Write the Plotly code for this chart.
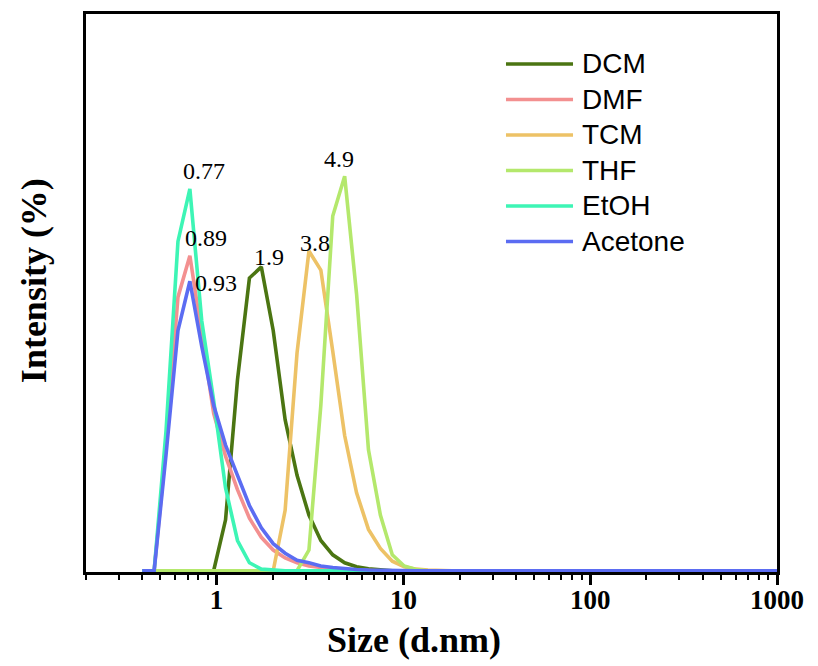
import math
import plotly.graph_objects as go

# Hydrodynamic size bins (nm) of the DLS size distribution
SIZE_NM = [0.4, 0.4632, 0.5365, 0.6213, 0.7195, 0.8332, 0.9649, 1.117, 1.294, 1.499,
           1.736, 2.010, 2.328, 2.696, 3.122, 3.615, 4.187, 4.849, 5.615, 6.503,
           7.531, 8.721, 10.10, 11.70, 13.54, 15.69, 18.17, 21.04, 24.36, 28.21,
           32.67, 37.84, 43.82, 50.75, 58.77, 68.06, 78.82, 91.28, 105.7, 122.4,
           141.8, 164.2, 190.1, 220.2, 255.0, 295.3, 342.0, 396.1, 458.7, 531.2,
           615.1, 712.4, 825.0, 955.4, 1106]

# Intensity (%) per bin for each solvent
DCM = [0, 0, 0, 0, 0, 0, 0, 3.2, 12.0, 18.4,
       19.1, 15.1, 9.5, 6.0, 3.5, 1.9, 1.0, 0.5, 0.25, 0.12,
       0.06, 0, 0, 0, 0, 0, 0, 0, 0, 0,
       0, 0, 0, 0, 0, 0, 0, 0, 0, 0,
       0, 0, 0, 0, 0, 0, 0, 0, 0, 0,
       0, 0, 0, 0, 0]
DMF = [0, 0, 7.8, 17.2, 19.8, 14.8, 9.9, 7.2, 5.1, 3.3,
       2.1, 1.3, 0.8, 0.5, 0.3, 0.2, 0.12, 0.07, 0.04, 0,
       0, 0, 0, 0, 0, 0, 0, 0, 0, 0,
       0, 0, 0, 0, 0, 0, 0, 0, 0, 0,
       0, 0, 0, 0, 0, 0, 0, 0, 0, 0,
       0, 0, 0, 0, 0]
TCM = [0, 0, 0, 0, 0, 0, 0, 0, 0, 0,
       0, 0, 3.8, 13.7, 20.1, 18.9, 13.8, 8.5, 4.9, 2.6,
       1.4, 0.6, 0.25, 0.1, 0.04, 0, 0, 0, 0, 0,
       0, 0, 0, 0, 0, 0, 0, 0, 0, 0,
       0, 0, 0, 0, 0, 0, 0, 0, 0, 0,
       0, 0, 0, 0, 0]
THF = [0, 0, 0, 0, 0, 0, 0, 0, 0, 0,
       0, 0, 0, 0, 1.3, 10.4, 22.3, 24.8, 17.4, 7.6,
       3.5, 1.0, 0.3, 0.08, 0, 0, 0, 0, 0, 0,
       0, 0, 0, 0, 0, 0, 0, 0, 0, 0,
       0, 0, 0, 0, 0, 0, 0, 0, 0, 0,
       0, 0, 0, 0, 0]
ETOH = [0, 0, 8.8, 20.7, 24.0, 15.7, 10.7, 5.2, 1.9, 0.5,
        0.1, 0.03, 0, 0, 0, 0, 0, 0, 0, 0,
        0, 0, 0, 0, 0, 0, 0, 0, 0, 0,
        0, 0, 0, 0, 0, 0, 0, 0, 0, 0,
        0, 0, 0, 0, 0, 0, 0, 0, 0, 0,
        0, 0, 0, 0, 0]
ACETONE = [0, 0, 7.3, 15.1, 18.2, 14.1, 10.4, 7.9, 6.0, 4.1,
           2.7, 1.7, 1.1, 0.66, 0.5, 0.3, 0.2, 0.13, 0.08, 0.05,
           0.03, 0, 0, 0, 0, 0, 0, 0, 0, 0,
           0, 0, 0, 0, 0, 0, 0, 0, 0, 0,
           0, 0, 0, 0, 0, 0, 0, 0, 0, 0,
           0, 0, 0, 0, 0]

SERIES_NAMES = ["DCM", "DMF", "TCM", "THF", "EtOH", "Acetone"]
SERIES_VALUES = [DCM, DMF, TCM, THF, ETOH, ACETONE]
SERIES_COLORS = ["#4B7512", "#F39090", "#EDC266", "#B4E86C", "#3DF5B5", "#5B6CF2"]

# Mean size (nm) written above each peak
MEAN_SIZE = [1.9, 0.89, 3.8, 4.9, 0.77, 0.93]
LABEL_SHIFT = [(0, 10), (-1, 18), (-10, 8), (-7, 17), (9, 18), (5, -2)]

X_TICKS = [1, 10, 100, 1000]
X_TICK_TEXT = ["1", "10", "100", "1000"]

SERIF = "Liberation Serif, Times New Roman, serif"
SANS = "Liberation Sans, Arial, sans-serif"

fig = go.Figure()
for name, vals, color in zip(SERIES_NAMES, SERIES_VALUES, SERIES_COLORS):
    fig.add_trace(go.Scatter(x=SIZE_NM, y=vals, mode="lines", name=name,
                             line=dict(color=color, width=3.6),
                             showlegend=False))

# peak labels
for vals, mean, (dx, dy) in zip(SERIES_VALUES, MEAN_SIZE, LABEL_SHIFT):
    fig.add_annotation(x=math.log10(mean), y=max(vals), xref="x", yref="y",
                       text=f"{mean:g}", showarrow=False,
                       xanchor="center", yanchor="middle", xshift=dx, yshift=dy,
                       font=dict(family=SERIF, size=24, color="black"))

# legend with long line samples
leg_x0, leg_x1, leg_tx = 0.6078, 0.7048, 0.7149
leg_y0, leg_dy = 0.9104, 0.0636
for i, (name, color) in enumerate(zip(SERIES_NAMES, SERIES_COLORS)):
    yy = leg_y0 - i * leg_dy
    fig.add_shape(type="line", xref="paper", yref="paper",
                  x0=leg_x0, x1=leg_x1, y0=yy, y1=yy,
                  line=dict(color=color, width=3.6))
    fig.add_annotation(x=leg_tx, y=yy, xref="paper", yref="paper",
                       text=name, showarrow=False, xanchor="left", yanchor="middle",
                       font=dict(family=SANS, size=28, color="black"))

# axis titles
fig.add_annotation(x=0.4747, y=-0.122, xref="paper", yref="paper",
                   text="<b>Size (d.nm)</b>", showarrow=False,
                   xanchor="center", yanchor="middle",
                   font=dict(family=SERIF, size=36, color="black"))
fig.add_annotation(x=-0.0753, y=0.523, xref="paper", yref="paper",
                   text="<b>Intensity (%)</b>", showarrow=False, textangle=-90,
                   xanchor="center", yanchor="middle",
                   font=dict(family=SERIF, size=36, color="black"))

minor_vals = [m * 10 ** d for d in range(-1, 3) for m in range(2, 10)]

fig.update_xaxes(type="log", range=[math.log10(0.2), 3],
                 tickvals=X_TICKS, ticktext=X_TICK_TEXT,
                 ticks="outside", ticklen=10, tickwidth=2.5, tickcolor="black",
                 ticklabelstandoff=-8,
                 minor=dict(tickvals=minor_vals, ticks="outside", ticklen=5,
                            tickwidth=2, tickcolor="black", showgrid=False),
                 showline=True, linecolor="black", linewidth=3, mirror=True,
                 showgrid=False, zeroline=False,
                 tickfont=dict(family=SERIF, size=27, color="black", weight="bold"))
fig.update_yaxes(range=[-0.08, 35], showticklabels=False, ticks="",
                 showline=True, linecolor="black", linewidth=3, mirror=True,
                 showgrid=False, zeroline=False)

fig.update_layout(width=818, height=666,
                  margin=dict(l=86, r=41, t=14, b=94),
                  plot_bgcolor="white", paper_bgcolor="white",
                  showlegend=False)

fig.write_html("out.html")
